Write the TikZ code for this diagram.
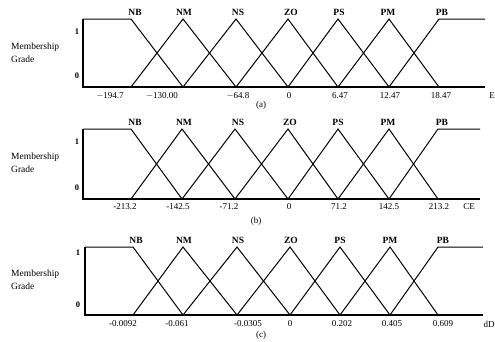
\documentclass[tikz,border=0pt]{standalone}
\usepackage{fontspec}
\setmainfont{Liberation Serif}
\begin{document}
\begin{tikzpicture}[x=1pt,y=-1pt,
  curve/.style={line width=1pt,black},
  axisline/.style={line width=1.3pt,black},
  setlbl/.style={font=\fontsize{9.5}{10}\selectfont\bfseries,inner sep=0pt},
  ticklbl/.style={font=\fontsize{9}{10}\selectfont,inner sep=0pt},
  ylbl/.style={font=\fontsize{9.5}{13}\selectfont,align=left,inner sep=0pt,anchor=west},
  onezero/.style={font=\fontsize{8.5}{9}\selectfont\bfseries,inner sep=0pt}]
\useasboundingbox (0,0) rectangle (495,341);
\foreach \top/\bot/\ax/\a/\b/\c/\d/\e/\f/\g/\rend/\pn in {
  19/87/83/131/183/236/288/338/389/439/485/a,
  129/199/83/131/182/235/288/338/389/438/480/b,
  247/315/85/133/183/237/290/340/390/438/483/c}{
  \coordinate (\pn-o) at (\ax,\bot);
  \coordinate (\pn-t) at (\ax,\top);
  \coordinate (\pn-r) at (\rend,\bot);
  \draw[axisline] (\pn-t) -- (\pn-o) -- (\pn-r);
  \draw[curve] (\pn-t) -- (\a,\top) -- (\b,\bot);
  \draw[curve] (\a,\bot) -- (\b,\top) -- (\c,\bot);
  \draw[curve] (\b,\bot) -- (\c,\top) -- (\d,\bot);
  \draw[curve] (\c,\bot) -- (\d,\top) -- (\e,\bot);
  \draw[curve] (\d,\bot) -- (\e,\top) -- (\f,\bot);
  \draw[curve] (\e,\bot) -- (\f,\top) -- (\g,\bot);
  \draw[curve] (\f,\bot) -- (\g,\top) -- (\rend,\top);
}
% panel (a) labels
\node[setlbl] (a-nb) at (135,12) {NB};
\node[setlbl] (a-nm) at (184,12) {NM};
\node[setlbl] (a-ns) at (238,12) {NS};
\node[setlbl] (a-zo) at (291,12) {ZO};
\node[setlbl] (a-ps) at (339,12) {PS};
\node[setlbl] (a-pm) at (388,12) {PM};
\node[setlbl] (a-pb) at (442,12) {PB};
\node[ylbl] (a-y) at (11,53) {Membership\\Grade};
\node[onezero] (a-1) at (77,32) {1};
\node[onezero] (a-0) at (77,76) {0};
\node[ticklbl] (a-t1) at (110,96) {$-$194.7};
\node[ticklbl] (a-t2) at (162,96) {$-$130.00};
\node[ticklbl] (a-t3) at (238,96) {$-$64.8};
\node[ticklbl] (a-t4) at (289,96) {0};
\node[ticklbl] (a-t5) at (340,96) {6.47};
\node[ticklbl] (a-t6) at (390,96) {12.47};
\node[ticklbl] (a-t7) at (441,96) {18.47};
\node[ticklbl] (a-v) at (492,96) {E};
\node[ticklbl] (a-cap) at (261,105) {(a)};
% panel (b) labels
\node[setlbl] (b-nb) at (135,122) {NB};
\node[setlbl] (b-nm) at (184,122) {NM};
\node[setlbl] (b-ns) at (238,122) {NS};
\node[setlbl] (b-zo) at (290,122) {ZO};
\node[setlbl] (b-ps) at (338,122) {PS};
\node[setlbl] (b-pm) at (388,122) {PM};
\node[setlbl] (b-pb) at (442,122) {PB};
\node[ylbl] (b-y) at (11,163) {Membership\\Grade};
\node[onezero] (b-1) at (77,142) {1};
\node[onezero] (b-0) at (77,188) {0};
\node[ticklbl] (b-t1) at (125,207) {-213.2};
\node[ticklbl] (b-t2) at (178,207) {-142.5};
\node[ticklbl] (b-t3) at (229,207) {-71.2};
\node[ticklbl] (b-t4) at (289,207) {0};
\node[ticklbl] (b-t5) at (339,207) {71.2};
\node[ticklbl] (b-t6) at (389,207) {142.5};
\node[ticklbl] (b-t7) at (439,207) {213.2};
\node[ticklbl] (b-v) at (469,207) {CE};
\node[ticklbl] (b-cap) at (256,221) {(b)};
% panel (c) labels
\node[setlbl] (c-nb) at (136,240) {NB};
\node[setlbl] (c-nm) at (184,240) {NM};
\node[setlbl] (c-ns) at (238,240) {NS};
\node[setlbl] (c-zo) at (291,240) {ZO};
\node[setlbl] (c-ps) at (340,240) {PS};
\node[setlbl] (c-pm) at (390,240) {PM};
\node[setlbl] (c-pb) at (443,240) {PB};
\node[ylbl] (c-y) at (11,280) {Membership\\Grade};
\node[onezero] (c-1) at (78,253) {1};
\node[onezero] (c-0) at (78,305) {0};
\node[ticklbl] (c-t1) at (123,324) {-0.0092};
\node[ticklbl] (c-t2) at (177,324) {-0.061};
\node[ticklbl] (c-t3) at (248,324) {-0.0305};
\node[ticklbl] (c-t4) at (290,324) {0};
\node[ticklbl] (c-t5) at (342,324) {0.202};
\node[ticklbl] (c-t6) at (392,324) {0.405};
\node[ticklbl] (c-t7) at (443,324) {0.609};
\node[ticklbl] (c-v) at (489,324) {dD};
\node[ticklbl] (c-cap) at (261,335) {(c)};
\end{tikzpicture}
\end{document}
